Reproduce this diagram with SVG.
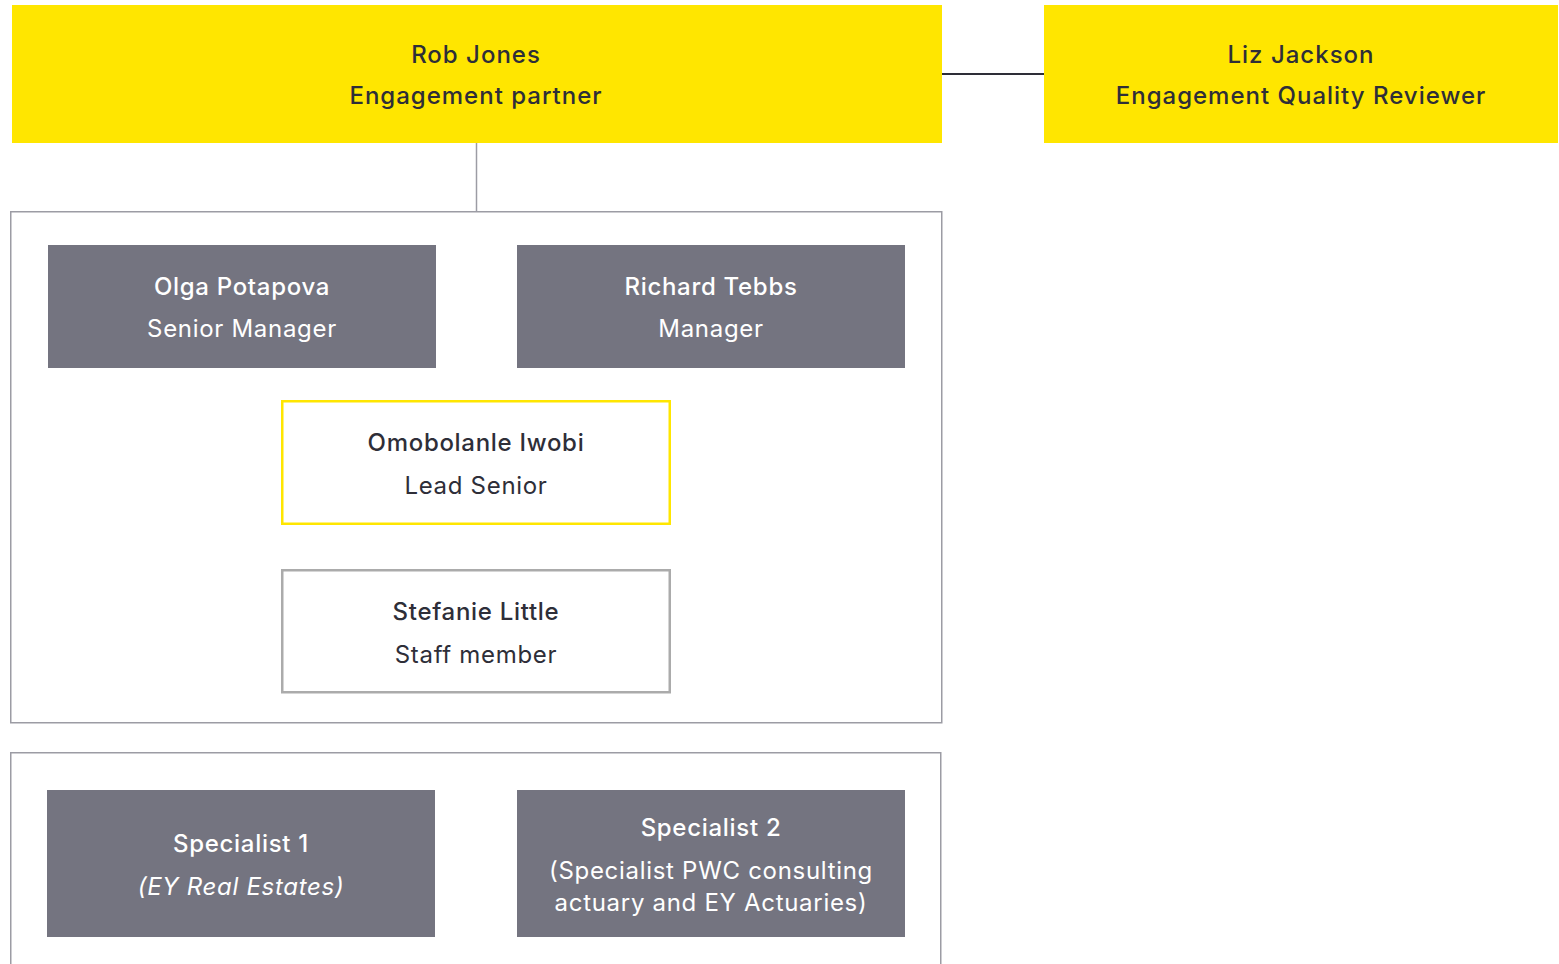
<svg xmlns="http://www.w3.org/2000/svg" width="1559" height="964" viewBox="0 0 1559 964">
<style>
.y{fill:#FFE600}
.g{fill:#747480}
.c{fill:none;stroke:#9c9ca4;stroke-width:1.5}
text{font-family:Inter,"Liberation Sans",Arial,sans-serif;font-size:24px;text-anchor:middle;letter-spacing:0.7px}
.b{font-weight:500}
.w{letter-spacing:1px}
.dk{fill:#2e2e38}
.wt{fill:#ffffff}
.it{font-style:italic}
</style>
<rect width="1559" height="964" fill="#ffffff"/>
<g id="connectors">
<line x1="942" y1="74" x2="1044" y2="74" stroke="#2e2e38" stroke-width="2"/>
<line x1="476.5" y1="143" x2="476.5" y2="211" stroke="#9c9ca4" stroke-width="1.5"/>
</g>
<g id="container-team">
<rect class="c" x="10.75" y="211.75" width="931" height="511"/>
</g>
<g id="container-specialists">
<path class="c" d="M10.75 966 V752.75 H940.75 V966"/>
</g>
<g id="rob-jones">
<rect class="y" x="12" y="5" width="930" height="138"/>
<text class="dk b w" x="476" y="63">Rob Jones</text>
<text class="dk b w" x="476" y="104">Engagement partner</text>
</g>
<g id="liz-jackson">
<rect class="y" x="1044" y="5" width="514" height="138"/>
<text class="dk b w" x="1301" y="63">Liz Jackson</text>
<text class="dk b w" x="1301" y="104">Engagement Quality Reviewer</text>
</g>
<g id="olga-potapova">
<rect class="g" x="48" y="245" width="388" height="123"/>
<text class="wt b" x="242" y="295">Olga Potapova</text>
<text class="wt" x="242" y="337">Senior Manager</text>
</g>
<g id="richard-tebbs">
<rect class="g" x="517" y="245" width="388" height="123"/>
<text class="wt b" x="711" y="295">Richard Tebbs</text>
<text class="wt" x="711" y="337">Manager</text>
</g>
<g id="omobolanle-iwobi">
<rect x="282.25" y="401.25" width="387.5" height="122.5" fill="#ffffff" stroke="#FFE600" stroke-width="2.5"/>
<text class="dk b" x="476" y="451">Omobolanle Iwobi</text>
<text class="dk" x="476" y="494">Lead Senior</text>
</g>
<g id="stefanie-little">
<rect x="282.25" y="570.25" width="387.5" height="122" fill="#ffffff" stroke="#ababab" stroke-width="2.5"/>
<text class="dk b" x="476" y="620">Stefanie Little</text>
<text class="dk" x="476" y="663">Staff member</text>
</g>
<g id="specialist-1">
<rect class="g" x="47" y="790" width="388" height="147"/>
<text class="wt b" x="241" y="852">Specialist 1</text>
<text class="wt it" x="241" y="895">(EY Real Estates)</text>
</g>
<g id="specialist-2">
<rect class="g" x="517" y="790" width="388" height="147"/>
<text class="wt b" x="711" y="836">Specialist 2</text>
<text class="wt" x="711" y="879">(Specialist PWC consulting</text>
<text class="wt" x="711" y="911">actuary and EY Actuaries)</text>
</g>
</svg>
